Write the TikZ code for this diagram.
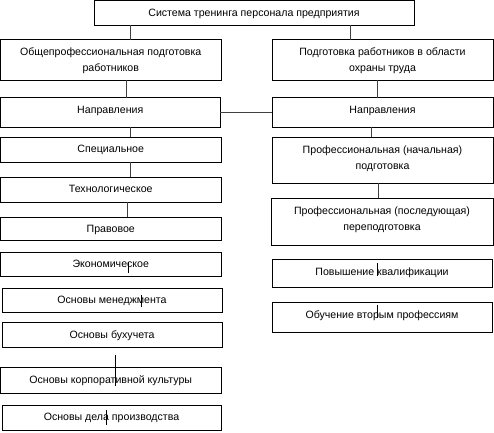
\documentclass[tikz,border=0pt]{standalone}
\usepackage{fontspec}
\setmainfont{Liberation Sans}
\tikzset{
  box/.style={draw, line width=0.8pt, rectangle, inner sep=0pt, outer sep=0pt, anchor=north west},
  txt/.style={inner sep=0pt, align=center, font=\fontsize{10.6}{16}\selectfont, anchor=north},
  conn/.style={line width=0.7pt, draw=black!75},
}
\newcommand{\mkbox}[5]{\node[box, minimum width={(#4-#2)*1pt}, minimum height={(#5-#3)*1pt}] (#1) at (#2,#3) {};}
\newcommand{\mktext}[2]{\node[txt] at ([yshift=-8.3pt]#1.north) {#2};}
\begin{document}
\begin{tikzpicture}[x=1pt,y=-1pt]
\useasboundingbox (0,0) rectangle (494,432);
% boxes
\mkbox{top}{94}{0.5}{414}{25}
\mkbox{lA}{0.5}{39.5}{221}{80}
\mkbox{rA}{272}{39.5}{493}{80}
\mkbox{lB}{0.5}{97.5}{220}{127}
\mkbox{rB}{272}{97.5}{493}{127}
\mkbox{l1}{0.5}{137}{221}{162}
\mkbox{l2}{0.5}{177}{221}{202}
\mkbox{l3}{0.5}{217}{221}{240}
\mkbox{l4}{0.5}{252}{221}{276}
\mkbox{l5}{2}{288}{222}{312}
\mkbox{l6}{2}{322}{222}{347}
\mkbox{l7}{0.5}{367}{221}{393}
\mkbox{l8}{2}{405}{221}{430}
\mkbox{r1}{272}{137}{493}{183}
\mkbox{r2}{271}{198}{493}{245}
\mkbox{r3}{272}{259}{492}{287}
\mkbox{r4}{272}{302}{492}{332}
% texts
\mktext{top}{Система тренинга персонала предприятия}
\mktext{lA}{Общепрофессиональная подготовка\\работников}
\mktext{rA}{Подготовка работников в области\\охраны труда}
\mktext{lB}{Направления}
\mktext{rB}{Направления}
\mktext{l1}{Специальное}
\mktext{l2}{Технологическое}
\mktext{l3}{Правовое}
\mktext{l4}{Экономическое}
\mktext{l5}{Основы менеджмента}
\mktext{l6}{Основы бухучета}
\mktext{l7}{Основы корпоративной культуры}
\mktext{l8}{Основы дела производства}
\mktext{r1}{Профессиональная (начальная)\\подготовка}
\mktext{r2}{Профессиональная (последующая)\\переподготовка}
\mktext{r3}{Повышение квалификации}
\mktext{r4}{Обучение вторым профессиям}
% connectors
\draw[conn] (130.7,0 |- top.south) -- (130.7,0 |- lA.north);
\draw[conn] (350.7,0 |- top.south) -- (350.7,0 |- rA.north);
\draw[conn] (126.7,0 |- lA.south) -- (126.7,0 |- lB.north);
\draw[conn] (377.3,0 |- rA.south) -- (377.3,0 |- rB.north);
\draw[conn] (lB.east) -- (rB.west);
\draw[conn] (130.7,0 |- lB.south) -- (130.7,0 |- l1.north);
\draw[conn] (371,0 |- rB.south) -- (371,0 |- r1.north);
\draw[conn] (130,0 |- l1.south) -- (130,0 |- l2.north);
\draw[conn] (127.7,0 |- l2.south) -- (127.7,0 |- l3.north);
\draw[conn] (378,0 |- r1.south) -- (378,0 |- r2.north);
% connector fragments
\coordinate (f1a) at (128,262); \coordinate (f1b) at (128,273);
\coordinate (f2a) at (141.5,295); \coordinate (f2b) at (141.5,307);
\coordinate (f3a) at (115,355); \coordinate (f3b) at (115,386);
\coordinate (f4a) at (106,410); \coordinate (f4b) at (106,425);
\coordinate (f5a) at (377,263); \coordinate (f5b) at (377,276);
\coordinate (f6a) at (377,305); \coordinate (f6b) at (377,318);
\draw[line width=0.7pt] (f1a) -- (f1b);
\draw[line width=0.7pt] (f2a) -- (f2b);
\draw[line width=0.7pt] (f3a) -- (f3b);
\draw[line width=0.7pt] (f4a) -- (f4b);
\draw[line width=0.7pt] (f5a) -- (f5b);
\draw[line width=0.7pt] (f6a) -- (f6b);
\end{tikzpicture}
\end{document}
